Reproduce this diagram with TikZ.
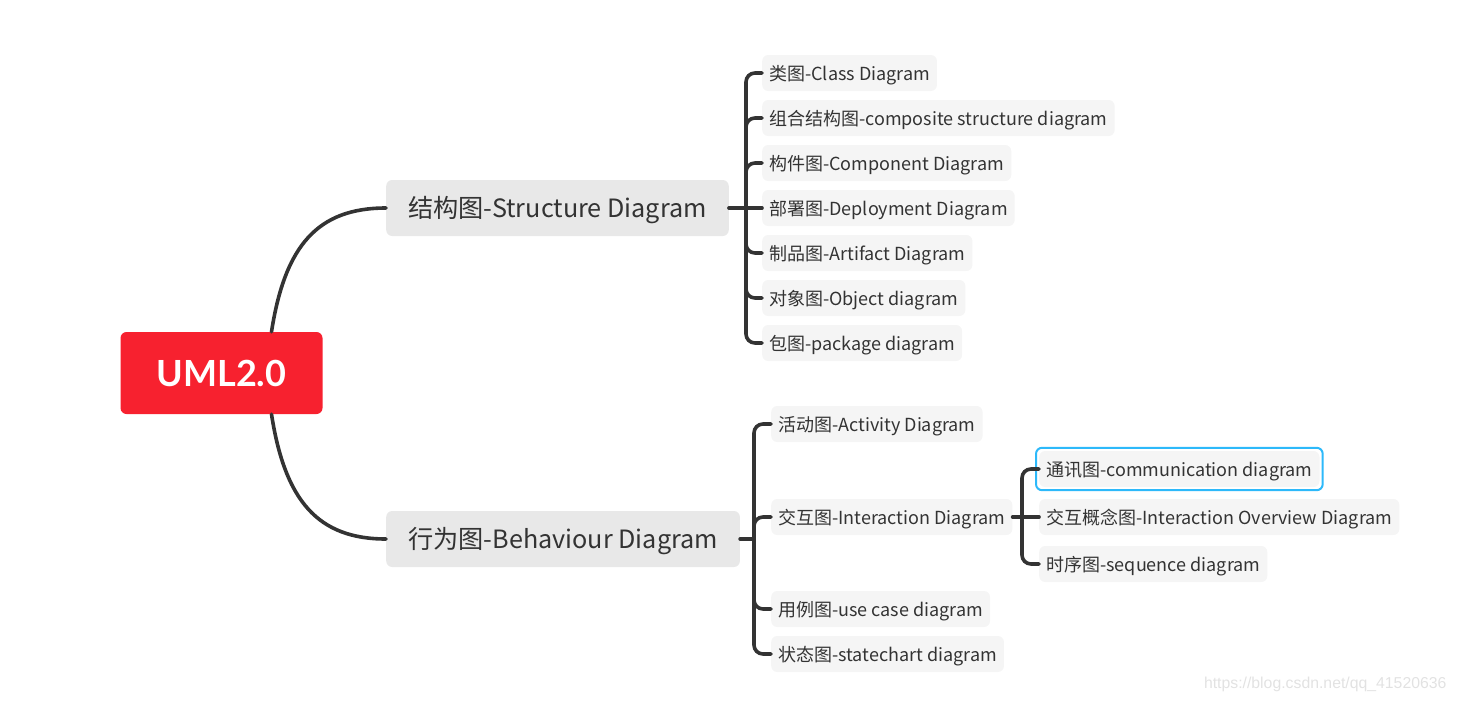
\documentclass[tikz,border=0pt]{standalone}
\usepackage{fontspec}
\setmainfont{Noto Sans CJK SC}
\newfontfamily\rootfont{Lato}
\newfontfamily\markfont{Liberation Sans}
\usetikzlibrary{fit}
\definecolor{linegray}{RGB}{51,51,51}
\definecolor{textgray}{RGB}{51,51,51}
\definecolor{rootred}{RGB}{247,33,47}
\definecolor{mainfill}{RGB}{232,232,232}
\definecolor{leaffill}{RGB}{245,245,245}
\definecolor{selblue}{RGB}{45,185,250}
\definecolor{markgray}{RGB}{226,226,226}

\begin{document}
\begin{tikzpicture}[x=1pt,y=1pt,yscale=-1,
  branch/.style={draw=linegray, line width=3.6pt, line cap=round},
  rootbox/.style={fill=rootred, rounded corners=6pt, minimum width=202pt, minimum height=82pt,
    text=white, font=\rootfont\bfseries\fontsize{36}{40}\selectfont},
  mainbox/.style={fill=mainfill, rounded corners=6pt, anchor=west, minimum height=56pt,
    inner xsep=22pt, text height=25pt, text depth=5.8pt, text=textgray,
    font=\fontsize{25.2}{28}\selectfont},
  leaf/.style={fill=leaffill, rounded corners=6pt, anchor=west, minimum height=36pt,
    inner xsep=7pt, text height=18pt, text depth=4pt, text=textgray,
    font=\fontsize{18}{20}\selectfont},
  selectbox/.style={draw=selblue, line width=2pt, rounded corners=6pt, inner sep=3pt},
  wmark/.style={text=markgray, anchor=east, font=\markfont\fontsize{15.8}{18}\selectfont}]
\useasboundingbox (0,0) rectangle (1457,702);
% root and the two main branches
\node[rootbox] (root) at (221.5,373) {UML2.0};
\node[mainbox] (sd) at (386,208) {结构图-Structure Diagram};
\node[mainbox] (bd) at (386,539) {行为图-Behaviour Diagram};
\draw[branch] ([xshift=50pt]root.north) .. controls (285,245) and (318,208) .. (sd.west);
\draw[branch] ([xshift=50pt]root.south) .. controls (285,501) and (318,539) .. (bd.west);
% structure diagrams
\node[leaf] (s1) at (762,73) {类图-Class Diagram};
\node[leaf] (s2) at (762,118) {组合结构图-composite structure diagram};
\node[leaf] (s3) at (762,163) {构件图-Component Diagram};
\node[leaf] (s4) at (762,208) {部署图-Deployment Diagram};
\node[leaf] (s5) at (762,253) {制品图-Artifact Diagram};
\node[leaf] (s6) at (762,298) {对象图-Object diagram};
\node[leaf] (s7) at (762,343) {包图-package diagram};
\coordinate (sj) at (746,208);
\draw[branch] (sd.east) -- (sj) -- (s4.west);
\foreach \c in {s1,s2,s3,s5,s6,s7}
  \draw[branch, rounded corners=9pt] (sj) |- (\c.west);
% behaviour diagrams
\node[leaf] (b1) at (771,424) {活动图-Activity Diagram};
\node[leaf] (b2) at (771,517) {交互图-Interaction Diagram};
\node[leaf] (b3) at (771,609) {用例图-use case diagram};
\node[leaf] (b4) at (771,654) {状态图-statechart diagram};
\coordinate (bj) at (754,539);
\draw[branch] (bd.east) -- (bj);
\foreach \c in {b1,b2,b3,b4}
  \draw[branch, rounded corners=9pt] (bj) |- (\c.west);
% interaction diagrams
\node[leaf] (k1) at (1039,469) {通讯图-communication diagram};
\node[leaf] (k2) at (1039,517) {交互概念图-Interaction Overview Diagram};
\node[leaf] (k3) at (1039,564) {时序图-sequence diagram};
\node[selectbox, fit=(k1)] (k1sel) {};
\coordinate (kj) at (1022,517);
\draw[branch] (b2.east) -- (kj) -- (k2.west);
\foreach \c in {k1,k3}
  \draw[branch, rounded corners=9pt] (kj) |- (\c.west);
% watermark
\node[wmark] (wm) at (1450,684) {https://blog.csdn.net/qq\_41520636};
\end{tikzpicture}
\end{document}
